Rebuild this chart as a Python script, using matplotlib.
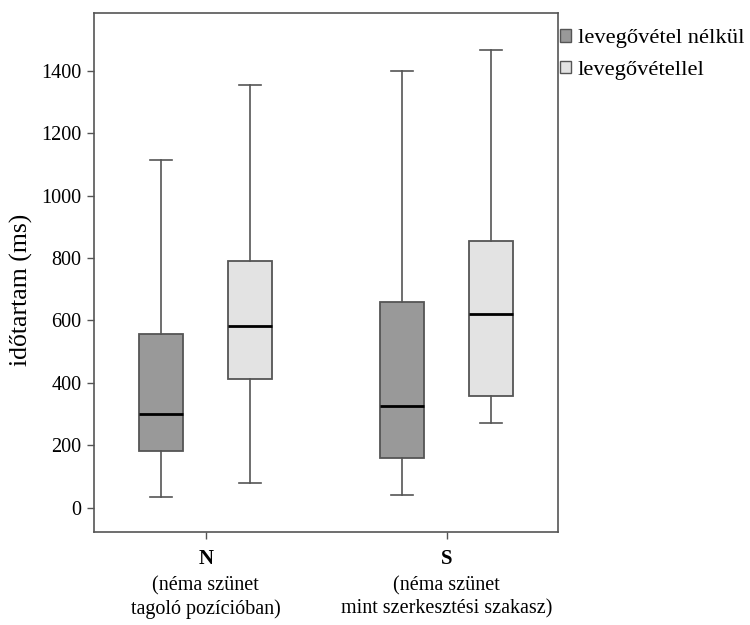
import matplotlib
matplotlib.use("Agg")
import matplotlib.pyplot as plt
from matplotlib.patches import Patch

plt.rcParams['font.family'] = ['Liberation Serif', 'DejaVu Serif']

groups = ["N", "S"]
group_desc = ["(néma szünet\ntagoló pozícióban)", "(néma szünet\nmint szerkesztési szakasz)"]
series = ["levegővétel nélkül", "levegővétellel"]
colors = ["#999999", "#e3e3e3"]

# [whislo, q1, med, q3, whishi] per group, per series
no_breath = [[34, 182, 301, 556, 1113], [40, 160, 326, 659, 1398]]
with_breath = [[79, 412, 583, 791, 1353], [271, 359, 620, 853, 1468]]

y_ticks = [0, 200, 400, 600, 800, 1000, 1200, 1400]

edge = "#555555"

fig = plt.figure(figsize=(7.5, 6.25), dpi=100)
ax = fig.add_axes([0.1247, 0.1488, 0.6193, 0.8304])

offset = 0.185
width = 0.183
for si, (data, col) in enumerate(zip([no_breath, with_breath], colors)):
    stats = []
    for vals in data:
        lo, q1, med, q3, hi = vals
        stats.append(dict(whislo=lo, q1=q1, med=med, q3=q3, whishi=hi, fliers=[]))
    pos = [gi + (offset if si else -offset) for gi in range(len(groups))]
    ax.bxp(stats, positions=pos, widths=width, patch_artist=True, showfliers=False,
           boxprops=dict(facecolor=col, edgecolor=edge, linewidth=1.3),
           whiskerprops=dict(color=edge, linewidth=1.2),
           capprops=dict(color=edge, linewidth=1.2),
           medianprops=dict(color="black", linewidth=2),
           capwidths=width / 2, manage_ticks=False)

ax.set_xlim(-0.466, 1.462)
ax.set_ylim(-78, 1585)
ax.set_yticks(y_ticks)
ax.set_xticks(range(len(groups)))
ax.set_xticklabels([])
for gi, (g, d) in enumerate(zip(groups, group_desc)):
    ax.annotate(g, xy=(gi, 0), xycoords=('data', 'axes fraction'), xytext=(0, -12.5),
                textcoords='offset points', ha='center', va='top', fontsize=15, fontweight='bold')
    ax.annotate(d, xy=(gi, 0), xycoords=('data', 'axes fraction'), xytext=(0, -31.5),
                textcoords='offset points', ha='center', va='top', fontsize=14.5, linespacing=1.28)

ax.set_ylabel("időtartam (ms)", fontsize=18.5, labelpad=6)
ax.yaxis.label.set_y(0.466)
ax.tick_params(axis='both', labelsize=14.5, length=5, color=edge, width=1)
for sp in ax.spines.values():
    sp.set_color(edge)
    sp.set_linewidth(1.2)

handles = [Patch(facecolor=c, edgecolor=edge, linewidth=1) for c in colors]
fig.legend(handles, series, loc='upper left', bbox_to_anchor=(0.746, 0.954), frameon=False,
           fontsize=16.2, handlelength=0.5, handleheight=0.5, handletextpad=0.3,
           borderaxespad=0, borderpad=0, labelspacing=0.55)

fig.savefig("out.png")
